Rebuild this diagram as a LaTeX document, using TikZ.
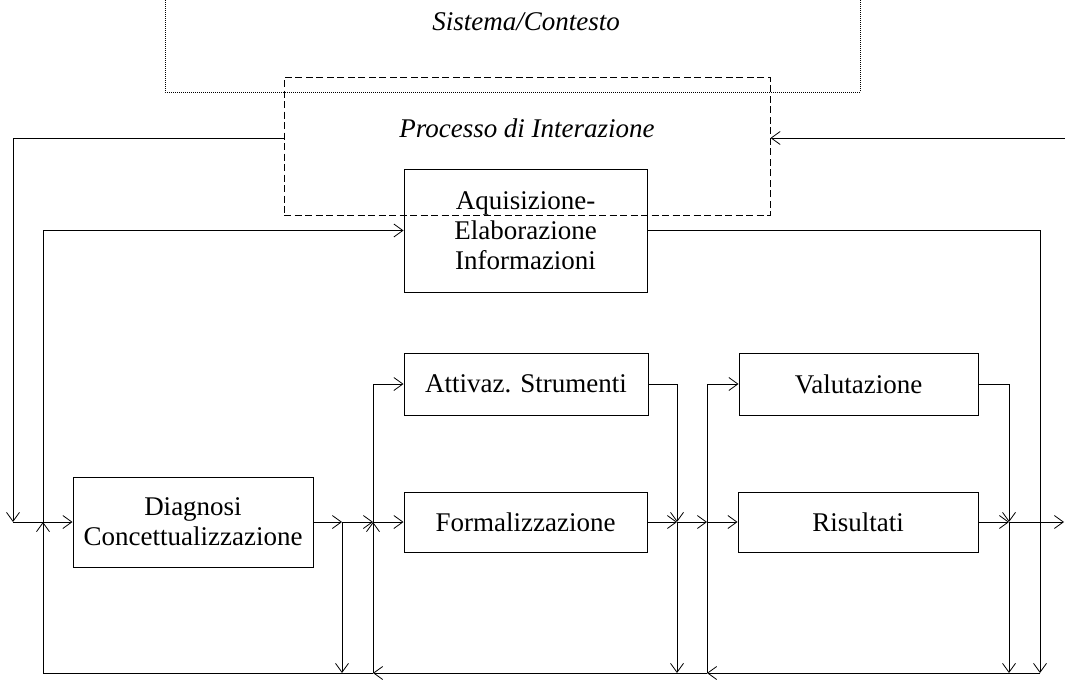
\documentclass[tikz,border=0pt]{standalone}
\usepackage{fontspec}
\setmainfont{Liberation Serif}
\usetikzlibrary{arrows.meta}
\begin{document}
\begin{tikzpicture}[x=1pt,y=-1pt,
  every node/.style={font=\fontsize{27}{30}\selectfont},
  block/.style={draw,line width=1pt,inner sep=0pt,align=center},
  frame/.style={draw,line width=1pt,dash pattern=on 7pt off 3.5pt,inner sep=0pt},
  scope line/.style={line width=0.7pt,dash pattern=on 0.8pt off 1.2pt},
  link/.style={line width=0.8pt},
  arr/.style={link,-{Straight Barb[length=9pt,width=13pt,line width=0.8pt]}}]
\useasboundingbox (0,0) rectangle (1065,680);

% system / context boundary (open at the top)
\coordinate (sysL) at (165,0);
\coordinate (sysR) at (860,0);
\draw[scope line] (sysL) |- (860,92) -- (sysR);
\node (syslab) at (526,22) {\itshape Sistema/Contesto};

% interaction process
\node[frame,minimum width=486,minimum height=138] (proc) at (527,146) {};
\node (proclab) at (527,128) {\itshape Processo di Interazione};

% blocks
\node[block,minimum width=243,minimum height=123] (aq) at (525.5,230.5) {Aquisizione-\\Elaborazione\\Informazioni};
\node[block,minimum width=244,minimum height=62] (att) at (526,384) {Attivaz. Strumenti};
\node[block,minimum width=243,minimum height=60] (form) at (525.5,522) {Formalizzazione};
\node[block,minimum width=239,minimum height=62] (val) at (858.5,384) {Valutazione};
\node[block,minimum width=240,minimum height=60] (ris) at (858,522) {Risultati};
\node[block,minimum width=240,minimum height=90] (diag) at (193,522) {Diagnosi\\Concettualizzazione};

% junctions
\coordinate (inR) at (1065,138);
\coordinate (lc) at (13,522);
\coordinate (j43) at (43,522);
\coordinate (b43) at (43,673);
\coordinate (s342) at (342,522);
\coordinate (b342) at (342,673);
\coordinate (j373) at (373,522);
\coordinate (b373) at (373,673);
\coordinate (j677) at (677,522);
\coordinate (b677) at (677,673);
\coordinate (j707) at (707,522);
\coordinate (b707) at (707,673);
\coordinate (j1009) at (1009,522);
\coordinate (b1009) at (1009,673);
\coordinate (b1040) at (1040,673);
\coordinate (out) at (1064,522);

% interaction loop
\draw[arr] (inR) -- (proc.east |- inR);
\draw[arr] (proc.west |- inR) -| (lc);
\draw[arr] (lc) -- (diag.west);

% feedback return line
\draw[arr] (b1040) -- (b707);
\draw[arr] (b707) -- (b373);
\draw[link] (b373) -- (b43);
\draw[arr] (b43) -- (j43);
\draw[arr] (j43) |- (aq.west);
\draw[arr] (aq.east) -| (b1040);

% first stage
\draw[arr] (diag.east) -- (s342);
\draw[arr] (s342) -- (b342);
\draw[arr] (s342) -- (j373);
\draw[arr] (b373) -- (j373);
\draw[arr] (j373) -- (form.west);
\draw[arr] (j373) |- (att.west);

% second stage
\draw[arr] (form.east) -- (j677);
\draw[arr] (att.east) -| (j677);
\draw[arr] (j677) -- (b677);
\draw[arr] (j677) -- (j707);
\draw[link] (b707) -- (j707);
\draw[arr] (j707) |- (val.west);
\draw[arr] (j707) -- (ris.west);

% third stage
\draw[arr] (ris.east) -- (j1009);
\draw[arr] (val.east) -| (j1009);
\draw[arr] (j1009) -- (b1009);
\draw[arr] (j1009) -- (out);
\end{tikzpicture}
\end{document}
